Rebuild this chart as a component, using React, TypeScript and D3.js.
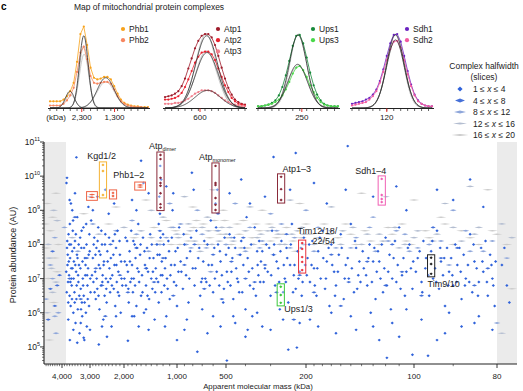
import React, { useEffect, useRef } from 'react'
import { select, scaleLinear, scaleLog, line, range } from 'd3'

const FONT = 'Liberation Sans, Arial, Helvetica, sans-serif'

// ---------- top panels: slice profiles (relative intensity) ----------
const phb1 = [8, 8, 8, 8, 10, 14, 20, 30, 55, 88, 97, 75, 48, 36, 34, 35, 37, 37, 34, 26, 17, 10, 6, 4, 3, 2, 2, 1, 1, 1]
const phb2 = [3, 3, 3, 3, 5, 9, 15, 24, 43, 66, 73, 58, 38, 30, 29, 30, 31, 31, 29, 22, 14, 8, 5, 3, 2, 1, 1, 1, 0, 0]
const atp1 = [13, 14, 15, 17, 20, 26, 35, 47, 59, 71, 80, 86, 88, 88, 84, 75, 62, 48, 35, 24, 16, 10, 7, 5, 4]
const atp2 = [10, 10, 11, 12, 14, 18, 25, 34, 44, 54, 61, 66, 67, 67, 64, 57, 47, 37, 27, 19, 12, 8, 5, 4, 3]
const atp3 = [5, 5, 5, 6, 6, 7, 9, 11, 14, 17, 19, 21, 21, 21, 20, 18, 15, 12, 9, 7, 5, 4, 3, 2, 2]
const ups1 = [2, 2, 3, 4, 6, 9, 15, 25, 39, 56, 74, 86, 87, 77, 60, 42, 27, 16, 9, 5, 3, 2, 2, 2]
const ups3 = [2, 2, 3, 4, 5, 7, 10, 15, 22, 31, 41, 48, 50, 45, 37, 27, 19, 12, 7, 4, 3, 2, 2, 2]
const sdh1 = [5, 6, 7, 8, 10, 12, 16, 22, 32, 46, 62, 77, 87, 88, 79, 62, 44, 28, 16, 9, 5, 3, 2, 2]
const sdh2 = [3, 4, 5, 6, 7, 10, 14, 20, 30, 43, 57, 70, 79, 80, 72, 57, 40, 26, 15, 8, 5, 3, 2, 2]

// gaussian fits: [amplitude, centre slice, sigma]
const phbFits = [[86, 10, 1.3], [36, 16.5, 2.5], [20, 5.9, 1.3]]
const phbFitsGray = [[74, 10, 1.35], [64, 10.1, 1.4], [31, 16.5, 2.6], [16, 6, 1.4]]
const atpFits = [[86, 12.5, 3.3], [66, 12.6, 3.4], [21, 12.8, 3.8]]
const atpFitsGray = [[88, 12.3, 3.1], [68, 12.4, 3.2]]
const upsFits = [[87, 11.5, 2.5], [52, 11.4, 2.8]]
const upsFitsGray = [[88, 11.6, 2.4], [50, 11.5, 2.9]]
const sdhFits = [[87, 12.5, 2.5], [81, 12.5, 2.55]]
const sdhFitsGray = [[88, 12.4, 2.4]]

const phbTicks = [['2,300', 9.4], ['1,300', 19.1]]
const atpTicks = [['600', 10.5]]
const upsTicks = [['250', 12.6]]
const sdhTicks = [['120', 10]]

// ---------- main map ----------
const massTicks = [4000, 3000, 2000, 1000, 500, 200, 100, 80]
const massTickLabels = ['4,000', '3,000', '2,000', '1,000', '500', '200', '100', '80']
const massMinor = [4700, 4600, 4500, 4400, 4300, 4200, 4100, 3900, 3800, 3700, 3600, 3500, 3400, 3300, 3200, 3100,
  2900, 2800, 2700, 2600, 2500, 2400, 2300, 2200, 2100, 1900, 1800, 1700, 1600, 1500, 1400, 1300, 1200, 1100,
  900, 800, 700, 600, 400, 300, 190, 180, 170, 160, 150, 140, 130, 120, 110, 90]
const abundanceExponents = [5, 6, 7, 8, 9, 10, 11]
const halfwidthBins = [[1, 4], [4, 8], [8, 12], [12, 16], [16, 20]]

// [apparent mass kDa, log10 abundance]
const hw1 = [
  [3800, 7.9], [3780, 7.4], [3760, 6.9], [3740, 8.3], [3720, 7.1], [3700, 6.5], [3690, 8.6], [3680, 7.6], [3660, 6.2], [3650, 8.0],
  [3640, 7.3], [3620, 6.8], [3600, 7.8], [3580, 8.4], [3560, 6.0], [3550, 7.0], [3540, 7.5], [3520, 6.6], [3500, 8.1], [3480, 5.7],
  [3460, 7.2], [3450, 6.4], [3430, 7.7], [3420, 8.8], [3400, 6.1], [3380, 6.9], [3360, 7.4], [3340, 5.4], [3320, 8.2], [3300, 6.7],
  [3280, 7.9], [3260, 6.3], [3250, 5.9], [3230, 7.0], [3210, 8.5], [3200, 6.5], [3180, 5.2], [3160, 7.6], [3150, 7.1], [3130, 6.0],
  [3110, 8.0], [3100, 5.6], [3080, 6.8], [3060, 7.3], [3050, 9.1], [3030, 6.2], [3010, 7.8], [3000, 5.5], [2980, 6.6], [2960, 8.7],
  [3450, 10.55], [3800, 9.95], [3820, 9.8], [3700, 9.3], [3600, 9.0], [3420, 5.12], [3200, 5.27], [3690, 5.2],
  [2900, 7.6], [2880, 6.9], [2850, 8.2], [2820, 7.2], [2800, 6.4], [2780, 7.9], [2750, 6.7], [2720, 8.5], [2700, 7.4], [2680, 6.1],
  [2650, 7.7], [2630, 6.8], [2600, 8.0], [2580, 7.1], [2560, 5.8], [2540, 7.5], [2520, 6.5], [2500, 8.3], [2480, 7.0], [2460, 6.3],
  [2440, 7.8], [2420, 6.9], [2400, 8.9], [2380, 7.3], [2360, 6.6], [2340, 7.6], [2320, 5.6], [2300, 7.1], [2280, 8.1], [2260, 6.7],
  [2240, 7.4], [2220, 6.2], [2200, 7.9], [2180, 6.9], [2160, 8.4], [2140, 7.2], [2120, 6.5], [2100, 7.7], [2080, 6.0], [2060, 7.0],
  [2750, 9.4], [2500, 9.6], [2250, 9.2], [2900, 9.0], [2700, 5.07], [2450, 5.3],
  [1980, 7.5], [1950, 6.8], [1920, 8.1], [1900, 7.2], [1880, 6.3], [1860, 7.8], [1840, 6.9], [1820, 8.4], [1800, 7.4], [1780, 6.6],
  [1760, 7.0], [1740, 8.0], [1720, 7.6], [1700, 6.2], [1680, 7.3], [1660, 8.6], [1640, 6.9], [1620, 7.7], [1600, 6.5], [1580, 7.1],
  [1560, 8.2], [1540, 6.0], [1520, 7.4], [1500, 6.8], [1480, 7.9], [1460, 7.2], [1440, 6.4], [1420, 8.3], [1400, 7.0], [1380, 6.7],
  [1360, 7.6], [1340, 5.8], [1600, 10.45], [1800, 9.3], [1450, 9.5], [1700, 9.0], [1550, 9.8],
  [1900, 5.18], [1650, 5.6], [1450, 5.5], [1750, 5.9],
  [1320, 7.3], [1300, 8.0], [1280, 6.9], [1270, 8.6], [1260, 9.4], [1255, 7.7], [1250, 8.9], [1245, 10.3], [1240, 8.2], [1235, 7.1],
  [1230, 9.9], [1225, 6.6], [1220, 7.5], [1200, 8.3], [1180, 6.8], [1160, 7.6], [1140, 7.0], [1120, 8.1], [1100, 6.4], [1080, 7.4],
  [1060, 9.0], [1040, 6.9], [1020, 7.8], [1000, 6.2], [980, 7.2], [970, 8.5], [1000, 5.2], [1150, 5.9], [1150, 9.7], [1050, 9.5],
  [950, 7.5], [920, 6.7], [900, 8.0], [880, 7.1], [810, 10.1], [790, 9.6], [850, 6.3], [830, 7.8], [800, 7.3], [780, 6.8],
  [760, 8.4], [740, 7.6], [720, 6.5], [700, 7.0], [680, 8.1], [660, 6.9], [640, 7.4], [620, 8.7], [600, 6.6], [590, 7.9],
  [580, 9.2], [575, 8.5], [570, 7.2], [565, 9.6], [560, 8.0], [550, 6.8], [540, 7.5], [520, 6.3], [510, 8.2],
  [750, 4.86], [900, 5.5], [650, 5.4],
  [500, 7.7], [490, 6.9], [480, 8.3], [470, 7.2], [460, 6.4], [450, 7.9], [440, 7.0], [430, 6.6], [420, 8.1], [410, 7.4],
  [400, 6.1], [395, 8.8], [390, 7.6], [380, 6.8], [370, 7.3], [360, 8.5], [355, 6.5], [350, 7.8], [345, 7.1],
  [495, 4.6], [450, 5.7], [400, 5.3], [370, 5.9], [480, 9.5], [420, 9.9], [380, 9.2],
  [335, 7.5], [325, 6.9], [315, 8.0], [310, 7.2], [300, 6.5], [295, 8.4], [290, 7.7], [285, 6.8], [275, 7.3], [290, 10.56],
  [225, 10.68], [153, 10.88], [265, 8.1], [260, 6.6], [255, 7.0], [250, 7.9], [245, 6.3], [240, 7.4], [235, 8.6], [230, 7.1],
  [225, 6.7], [220, 7.8], [215, 7.2], [210, 6.5], [205, 8.2], [245, 4.92], [222, 4.98], [300, 5.5], [260, 5.8], [320, 9.4], [240, 9.6],
  [198, 7.6], [195, 6.9], [192, 8.1], [190, 7.3], [187, 6.5], [185, 7.8], [182, 7.0], [180, 8.4], [177, 6.7], [175, 7.5],
  [172, 6.2], [170, 8.0], [167, 7.2], [165, 6.8], [162, 7.7], [160, 8.3], [157, 6.4], [155, 7.4], [152, 7.0], [150, 8.6],
  [147, 6.6], [145, 7.9], [143, 7.1], [141, 6.9], [185, 5.6], [165, 5.4], [150, 5.9], [175, 9.2], [155, 9.6], [190, 9.8],
  [138, 7.3], [135, 6.8], [133, 8.0], [130, 7.5], [128, 6.4], [126, 7.8], [124, 7.0], [122, 6.6], [120, 8.2], [118, 7.2],
  [116, 6.1], [114, 7.6], [112, 6.9], [110, 8.5], [108, 7.1], [106, 6.5], [104, 7.9], [102, 7.3], [101, 6.7],
  [119, 4.68], [101, 4.77], [130, 5.6], [110, 5.3], [130, 9.4], [112, 9.7], [105, 9.0],
  [99, 7.6], [98, 6.9], [97.5, 8.1], [97, 7.3], [96, 6.5], [95.5, 7.8], [95, 7.0], [94, 8.4], [93.5, 6.7], [93, 7.5],
  [92, 6.2], [91.5, 7.9], [91, 7.2], [90, 6.8], [89.5, 8.0], [89, 7.4], [88, 6.4], [87.5, 7.7], [87, 7.0], [86, 8.3],
  [85.5, 6.6], [85, 7.5], [84, 6.9], [83.5, 7.9], [83, 7.2], [82, 6.5], [81.5, 7.7], [81, 7.0], [80.5, 6.2],
  [96.3, 4.74], [92, 5.4], [85, 5.7], [94, 9.6], [86, 9.9], [90, 9.3], [83, 9.1],
  [79, 7.4], [78, 6.8], [77.5, 6.3], [78.5, 7.9],
]
const hw1More = [
  [3830, 7.2], [3810, 6.6], [3790, 8.1], [3770, 7.7], [3750, 6.3], [3730, 7.5], [3710, 8.0], [3670, 6.9], [3630, 7.0], [3610, 6.4],
  [3590, 7.3], [3570, 8.7], [3530, 7.9], [3510, 6.3], [3490, 7.4], [3470, 8.3], [3440, 6.8], [3410, 7.6], [3390, 7.1], [3370, 8.0],
  [3350, 6.5], [3310, 7.3], [3290, 6.1], [3270, 8.4], [3240, 7.5], [3220, 6.8], [3190, 7.9], [3170, 6.3], [3140, 7.4], [3120, 8.6],
  [3090, 7.1], [3070, 6.4], [3040, 7.7], [3020, 8.3], [2990, 7.0], [3750, 5.8], [3560, 5.5], [3300, 5.7], [3650, 9.2], [3500, 9.5],
  [2930, 7.1], [2870, 8.0], [2840, 6.6], [2810, 7.7], [2770, 7.0], [2740, 8.1], [2710, 6.5], [2690, 7.8], [2660, 7.3], [2620, 8.4],
  [2590, 6.9], [2550, 7.4], [2510, 8.0], [2470, 6.7], [2430, 7.5], [2390, 8.2], [2350, 7.0], [2310, 6.8], [2270, 7.7], [2230, 8.3],
  [2190, 7.4], [2150, 6.6], [2110, 8.1], [2070, 7.5], [2040, 6.8], [2600, 5.6], [2200, 5.9],
  [1990, 7.0], [1960, 8.2], [1930, 7.4], [1890, 6.7], [1850, 7.5], [1810, 7.0], [1770, 8.1], [1730, 6.8], [1690, 7.9], [1650, 7.2],
  [1610, 8.0], [1570, 6.6], [1530, 7.8], [1490, 7.3], [1470, 6.5], [1430, 7.6], [1390, 8.0], [1370, 7.2], [1330, 6.6], [1800, 5.9], [1500, 6.1],
  [1310, 7.0], [1290, 7.7], [1210, 7.1], [1190, 8.0], [1170, 7.3], [1130, 6.7], [1110, 7.8], [1090, 7.1], [1070, 8.2], [1030, 7.4],
  [1010, 6.8], [990, 7.9], [1270, 6.3], [1170, 5.6],
  [940, 7.2], [910, 8.3], [870, 7.6], [840, 7.0], [820, 8.2], [770, 7.3], [730, 7.9], [710, 6.9], [690, 7.5], [670, 7.0],
  [650, 8.0], [630, 6.8], [610, 7.4], [585, 7.0], [545, 7.8], [530, 7.1], [515, 6.7], [870, 5.8], [700, 6.1], [600, 5.9], [540, 5.6],
  [495, 7.2], [485, 7.9], [475, 6.8], [465, 7.6], [455, 8.2], [445, 7.3], [435, 6.9], [425, 7.7], [415, 6.6], [405, 7.9],
  [385, 7.2], [375, 8.0], [365, 6.7], [348, 7.4], [342, 8.1], [460, 5.9], [390, 5.5], [350, 6.0],
  [338, 6.9], [330, 7.8], [320, 7.3], [305, 7.9], [298, 7.1], [288, 8.0], [280, 7.5], [272, 6.9], [268, 7.8], [258, 7.4],
  [252, 6.9], [248, 7.6], [238, 8.0], [232, 6.6], [228, 7.4], [218, 7.0], [212, 7.9], [208, 6.9], [202, 7.4], [330, 5.6], [270, 6.1], [215, 5.7],
  [199, 7.1], [196, 8.0], [193, 7.4], [189, 6.8], [186, 7.3], [183, 8.2], [179, 7.6], [176, 7.0], [173, 7.9], [169, 7.4],
  [166, 6.5], [163, 7.2], [159, 7.9], [156, 7.0], [153, 7.6], [149, 7.3], [146, 8.1], [144, 6.7], [142, 7.5], [195, 5.8], [170, 6.0], [145, 5.5],
  [139, 7.8], [136, 7.1], [134, 7.6], [131, 6.9], [129, 7.9], [127, 7.2], [125, 7.5], [123, 8.0], [121, 7.3], [119, 6.8],
  [117, 7.7], [115, 7.0], [113, 8.1], [111, 7.4], [109, 6.7], [107, 7.6], [105, 7.2], [103, 8.0], [100.5, 7.5], [132, 6.0],
  [115, 5.7], [105, 6.1], [125, 5.2],
  [99.5, 7.2], [98.5, 7.8], [97.8, 6.6], [96.8, 7.6], [96.2, 7.1], [95.2, 8.1], [94.5, 7.3], [94.2, 6.9], [93.2, 7.9], [92.5, 7.1],
  [92.2, 7.6], [91.2, 6.8], [90.5, 7.6], [90.2, 7.1], [89.2, 6.9], [88.5, 7.9], [88.2, 7.2], [87.2, 6.8], [86.5, 7.4], [86.2, 6.9],
  [85.2, 8.0], [84.5, 7.3], [84.2, 6.5], [83.2, 7.5], [82.5, 8.1], [82.2, 6.9], [81.2, 7.4], [80.8, 6.8], [80.3, 7.5], [98, 5.8],
  [94, 5.2], [91, 6.0], [88, 5.6], [84, 5.9], [81, 5.5],
]
const hw2 = [
  [3700, 7.0], [3300, 6.4], [3100, 7.6], [2800, 7.3], [2600, 6.8], [2350, 8.0], [2100, 7.1], [1900, 6.6], [1700, 7.9], [1500, 7.3],
  [1350, 6.9], [1200, 7.6], [1050, 6.5], [900, 7.4], [780, 8.0], [680, 6.7], [600, 7.7], [530, 6.4], [470, 7.5], [410, 8.2],
  [360, 6.9], [320, 7.4], [280, 6.6], [250, 8.3], [215, 7.1], [190, 6.6], [170, 7.7], [152, 6.9], [135, 7.5], [120, 6.8],
  [108, 7.2], [98, 6.5], [93, 7.6], [89, 7.9], [85, 6.8], [82, 7.3], [4300, 6.2], [4100, 7.1], [4500, 6.7], [3500, 8.8],
  [2500, 5.9], [1250, 8.4], [560, 8.9], [400, 7.0], [230, 5.8], [160, 6.2], [115, 8.0], [95, 8.5], [4400, 7.8], [4200, 6.8], [4600, 5.8],
]
const hw3 = [
  [4500, 7.4], [4300, 8.2], [4150, 6.0], [3900, 8.5], [3400, 7.8], [2900, 8.6], [2200, 8.4], [1800, 8.7], [1450, 7.8], [1150, 8.2],
  [950, 8.6], [820, 7.9], [700, 8.3], [620, 7.2], [500, 8.0], [430, 7.7], [380, 8.5], [330, 8.1], [290, 7.7], [265, 8.6],
  [240, 7.9], [205, 8.0], [185, 8.5], [165, 7.9], [145, 8.2], [128, 7.8], [112, 8.4], [103, 7.8], [96, 8.0], [91, 7.4],
  [87, 8.4], [83, 7.8], [78, 7.6], [4700, 6.4], [4250, 5.4], [3000, 9.4], [1100, 9.2], [750, 9.0], [450, 9.2], [300, 8.9],
  [200, 9.0], [130, 8.8], [90, 9.0], [80, 5.7],
  [1700, 8.3], [1250, 8.0], [1050, 8.5], [880, 8.0], [660, 7.9], [560, 8.4], [470, 8.2], [400, 7.8], [340, 7.9], [280, 8.4],
  [228, 8.2], [190, 7.8], [170, 8.4], [150, 7.9], [133, 8.5], [118, 8.1], [106, 8.3], [99, 7.9], [93, 8.1], [86, 7.8],
  [81, 8.1], [4400, 7.0], [4300, 5.9],
]
const hw4 = [
  [4600, 8.0], [4400, 6.6], [4200, 8.7], [3600, 8.2], [2700, 8.3], [2000, 8.5], [1600, 8.4], [1300, 8.0], [1000, 8.3], [850, 8.6],
  [720, 7.8], [640, 8.4], [550, 8.1], [480, 8.5], [420, 7.9], [350, 8.2], [310, 8.4], [270, 8.0], [235, 8.3], [210, 8.5],
  [180, 8.1], [158, 8.4], [140, 8.0], [125, 8.3], [110, 7.9], [100, 8.2], [94, 8.3], [88, 8.1], [84, 8.5], [77, 8.2],
  [4450, 7.3], [4350, 9.0], [1400, 9.0], [900, 9.4], [600, 9.6], [380, 9.1], [240, 9.3], [170, 9.1], [120, 9.4], [92, 9.2],
  [86, 9.7], [79, 5.4],
  [1400, 8.2], [1200, 8.8], [1080, 8.5], [980, 8.2], [830, 8.4], [780, 8.1], [700, 8.5], [650, 8.8], [610, 8.0], [530, 8.5],
  [500, 8.3], [460, 8.1], [400, 8.4], [365, 8.0], [335, 8.3], [295, 8.5], [275, 8.3], [255, 8.0], [220, 8.4], [205, 8.3],
  [190, 8.0], [172, 8.3], [160, 8.0], [148, 8.5], [135, 8.3], [122, 8.1], [113, 8.5], [106, 8.0], [99, 8.4], [95, 8.1],
  [90, 8.5], [85, 8.3], [79, 8.6], [4550, 7.6], [4250, 6.9], [4650, 6.0],
]
const hw5 = [
  [4500, 8.4], [4300, 7.6], [4550, 5.2], [3200, 8.9], [2400, 8.6], [1750, 8.2], [1350, 8.5], [1080, 8.0], [880, 8.3], [760, 8.7],
  [660, 8.0], [570, 8.4], [490, 8.2], [440, 8.6], [390, 7.9], [340, 8.4], [300, 8.1], [260, 8.3], [225, 7.8], [195, 8.3],
  [175, 8.0], [150, 8.3], [132, 8.1], [118, 8.5], [105, 8.1], [97, 8.4], [90, 8.0], [86, 8.2], [81, 8.4], [78, 8.0],
  [4650, 9.2], [4250, 9.5], [2200, 9.1], [1500, 9.3], [800, 9.1], [520, 9.0], [330, 9.0], [215, 9.2], [140, 9.5], [100, 9.3],
  [93, 8.8], [82, 9.6], [77, 6.7],
  [1250, 8.1], [1150, 8.7], [1020, 8.4], [960, 8.0], [850, 8.1], [790, 8.5], [740, 8.0], [690, 8.6], [630, 8.2], [590, 8.7],
  [540, 8.3], [510, 8.7], [470, 8.0], [430, 8.3], [410, 8.7], [370, 8.2], [355, 8.6], [320, 8.0], [305, 8.6], [280, 8.2],
  [250, 8.5], [232, 8.1], [210, 8.2], [200, 8.6], [185, 8.2], [178, 8.6], [163, 8.2], [155, 8.6], [145, 8.0], [137, 8.4],
  [125, 8.0], [115, 8.3], [108, 8.6], [102, 8.0], [96, 8.2], [92, 8.6], [88, 8.4], [84, 8.0], [80, 8.3], [4600, 7.0],
  [4400, 8.8], [4700, 7.9], [4200, 7.2], [4350, 6.3], [4150, 8.0], [4750, 8.6],
]

// highlighted complexes
const kgdMembers = [[2570, 10.33], [2570, 10.15], [2570, 9.45]]
const phbMembersA = [[2930, 9.46], [2930, 9.38]]
const phbMembersB = [[2280, 9.51], [2280, 9.42]]
const phbMembersC = [[1620, 9.74], [1620, 9.68]]
const atpDimerMembers = [[1241, 10.62], [1241, 10.5], [1241, 9.95], [1241, 9.8], [1241, 9.72], [1241, 9.5], [1241, 9.18], [1241, 9.08]]
const atpMonomerMembers = [[580, 10.3], [580, 9.8], [580, 9.74], [580, 9.36], [580, 9.16], [580, 9.01]]
const atp13Members = [[266, 9.98], [266, 9.62], [266, 9.3]]
const sdhMembers = [[123, 9.92], [123, 9.45], [123, 9.33], [123, 9.24]]
const tim12Members = [[209, 8.04], [209, 7.87], [209, 7.63], [209, 7.49], [209, 7.25]]
const upsMembers = [[267, 6.76], [267, 6.52], [267, 6.29]]
const tim910Members = [[95.5, 7.61], [95.5, 7.43], [95.5, 7.14]]

const classStyle = [
  { rx: 1.6, ry: 1.45, color: '#2f62da' },
  { rx: 2.6, ry: 1.15, color: '#4570d8' },
  { rx: 3.4, ry: 0.95, color: '#8ea6da' },
  { rx: 4.4, ry: 0.85, color: '#b3bdd0' },
  { rx: 5.4, ry: 0.75, color: '#cbcbcb' },
]
const legendStyle = [[2.6, 2.6], [5, 2], [6, 1.5], [7, 1.1], [8.5, 0.9]]

const diamond = (cx: number, cy: number, rx: number, ry: number) =>
  `M${cx - rx},${cy}L${cx},${cy - ry}L${cx + rx},${cy}L${cx},${cy + ry}Z`

function App() {
  const ref = useRef<SVGSVGElement>(null)

  useEffect(() => {
    const svg = select(ref.current)
    svg.selectAll('*').remove()

    svg.append('text').attr('x', 1).attr('y', 9.5).attr('font-size', 10).attr('font-weight', 'bold').text('c')
    svg.append('text').attr('x', 149).attr('y', 10).attr('text-anchor', 'middle').attr('font-size', 8.5)
      .attr('fill', '#222').text('Map of mitochondrial protein complexes')

    // ---------- top panels ----------
    const panels = [
      { series: [['Phb1', '#f7a21b', phb1], ['Phb2', '#f78660', phb2]], fits: phbFits, gray: phbFitsGray, ticks: phbTicks, x0: 50, x1: 148, lx: 123 },
      { series: [['Atp1', '#9e1b2a', atp1], ['Atp2', '#e8202e', atp2], ['Atp3', '#f07f8c', atp3]], fits: atpFits, gray: atpFitsGray, ticks: atpTicks, x0: 165, x1: 245, lx: 218 },
      { series: [['Ups1', '#17893a', ups1], ['Ups3', '#4ad84a', ups3]], fits: upsFits, gray: upsFitsGray, ticks: upsTicks, x0: 258, x1: 338, lx: 313 },
      { series: [['Sdh1', '#6a22c0', sdh1], ['Sdh2', '#f25aa0', sdh2]], fits: sdhFits, gray: sdhFitsGray, ticks: sdhTicks, x0: 352, x1: 432, lx: 407 },
    ]
    const py = scaleLinear().domain([0, 100]).range([108, 24])

    panels.forEach((p, pi) => {
      const n = (p.series[0][2] as number[]).length
      const px = scaleLinear().domain([0, n - 1]).range([p.x0, p.x1])
      const g = svg.append('g')
      const t = range(0, n - 1 + 0.001, 0.1)
      const fitPath = (f: number[]) => line<number>()
        .x(d => px(d))
        .y(d => py(f[0] * Math.exp(-((d - f[1]) ** 2) / (2 * f[2] * f[2]))))(t)

      p.gray.forEach(f => g.append('path').attr('d', fitPath(f)).attr('fill', 'none').attr('stroke', '#b0b0b0').attr('stroke-width', 0.7))

      p.series.forEach(([, color, vals]) => {
        const v = vals as number[]
        g.append('path').attr('d', line<number>().x((d, i) => px(i)).y(d => py(d))(v))
          .attr('fill', 'none').attr('stroke', color as string).attr('stroke-width', 0.8)
        g.selectAll(null).data(v).enter().append('circle')
          .attr('cx', (d, i) => px(i)).attr('cy', d => py(d)).attr('r', 1.1).attr('fill', color as string)
      })

      p.fits.forEach(f => g.append('path').attr('d', fitPath(f)).attr('fill', 'none').attr('stroke', '#2a2a2a').attr('stroke-width', 0.8))

      // axis
      g.append('line').attr('x1', p.x0 - 2).attr('x2', p.x1 + 2).attr('y1', 108.5).attr('y2', 108.5)
        .attr('stroke', '#222').attr('stroke-width', 1.2)
      g.selectAll(null).data(range(0, n, 2)).enter().append('line')
        .attr('x1', d => px(d)).attr('x2', d => px(d)).attr('y1', 108.5).attr('y2', 111)
        .attr('stroke', '#222').attr('stroke-width', 0.7)
      p.ticks.forEach(([label, s]) => {
        g.append('line').attr('x1', px(s as number)).attr('x2', px(s as number)).attr('y1', 108.5).attr('y2', 112)
          .attr('stroke', '#e8302a').attr('stroke-width', 1)
        g.append('text').attr('x', px(s as number)).attr('y', 120).attr('text-anchor', 'middle')
          .attr('font-size', 8).attr('fill', '#222').text(label as string)
      })
      if (pi === 0) {
        g.append('text').attr('x', px(1.8)).attr('y', 120).attr('text-anchor', 'middle')
          .attr('font-size', 8).attr('fill', '#222').text('(kDa)')
      }

      // legend
      p.series.forEach(([name, color], i) => {
        const ly = 29 + i * 11.2
        g.append('circle').attr('cx', p.lx).attr('cy', ly).attr('r', 2.1).attr('fill', color as string)
        g.append('text').attr('x', p.lx + 6).attr('y', ly + 3).attr('font-size', 8.5).attr('fill', '#222').text(name as string)
      })
    })

    // ---------- halfwidth legend ----------
    const lg = svg.append('g')
    lg.append('text').attr('x', 484).attr('y', 69).attr('text-anchor', 'middle').attr('font-size', 8.5).attr('fill', '#222').text('Complex halfwidth')
    lg.append('text').attr('x', 484).attr('y', 80).attr('text-anchor', 'middle').attr('font-size', 8.5).attr('fill', '#222').text('(slices)')
    halfwidthBins.forEach(([lo, hi], i) => {
      const cy = 89 + i * 11.5
      lg.append('path').attr('d', diamond(460, cy, legendStyle[i][0], legendStyle[i][1])).attr('fill', classStyle[i].color)
      const tx = lg.append('text').attr('x', 473).attr('y', cy + 3).attr('font-size', 8.5).attr('fill', '#222')
      tx.append('tspan').text(`${lo} ≤ `)
      tx.append('tspan').attr('font-style', 'italic').text('x')
      tx.append('tspan').text(` ≤ ${hi}`)
    })

    // ---------- main map ----------
    const x = scaleLog()
      .domain([4800, 4000, 3000, 2000, 1000, 500, 200, 100, 80, 76])
      .range([44, 62, 90, 124, 177, 226, 306, 414, 497, 517])
    const yMin = 10 ** 4.5
    const y = scaleLog().domain([yMin, 1e11]).range([364, 142])

    const bg = svg.append('g')
    bg.append('rect').attr('x', x(4800)).attr('y', y(1e11)).attr('width', x(3840) - x(4800))
      .attr('height', y(yMin) - y(1e11)).attr('fill', '#ebebeb')
    bg.append('rect').attr('x', x(80)).attr('y', y(1e11)).attr('width', x(76) - x(80))
      .attr('height', y(yMin) - y(1e11)).attr('fill', '#ebebeb')

    const pts = svg.append('g')
    const classes = [hw5, hw4, hw3, hw2, hw1.concat(hw1More)]
    classes.forEach((arr, k) => {
      const st = classStyle[4 - k]
      pts.selectAll(null).data(arr).enter().append('path')
        .attr('d', d => diamond(x(d[0]), y(10 ** d[1]), st.rx, st.ry))
        .attr('fill', st.color)
    })

    // complexes
    const complexes = [
      { m: kgdMembers, color: '#f5b335', cls: 0, labels: [{ t: 'Kgd1/2', dx: -12, dy: -3, from: 'top' }] },
      { m: phbMembersA, color: '#ee6446', cls: 2, labels: [] },
      { m: phbMembersB, color: '#ee6446', cls: 0, labels: [] },
      { m: phbMembersC, color: '#ee6446', cls: 2, labels: [{ t: 'Phb1–2', dx: -21.5, dy: -4, from: 'top' }] },
      { m: atpDimerMembers, color: '#8a2a3a', cls: 0, labels: [{ t: 'Atp', sub: 'dimer', dx: -8, dy: -3, from: 'top' }] },
      { m: atpMonomerMembers, color: '#8a2a3a', cls: 0, labels: [{ t: 'Atp', sub: 'monomer', dx: -13, dy: -3, from: 'top' }] },
      { m: atp13Members, color: '#8a2a3a', cls: 0, labels: [{ t: 'Atp1–3', dx: 5, dy: -1.5, from: 'top' }] },
      { m: sdhMembers, color: '#f060b4', cls: 0, labels: [{ t: 'Sdh1–4', dx: -23, dy: -2, from: 'top' }] },
      { m: tim12Members, color: '#e8303a', cls: 0, labels: [{ t: 'Tim12/18/', dx: -1, dy: -6, from: 'top' }, { t: '22/54', dx: 14, dy: 3.5, from: 'top' }] },
      { m: upsMembers, color: '#3cc83c', cls: 0, labels: [{ t: 'Ups1/3', dx: 7, dy: 6, from: 'bottom' }] },
      { m: tim910Members, color: '#222222', cls: 0, labels: [{ t: 'Tim9/10', dx: 0, dy: 10, from: 'bottom' }] },
    ]
    const ann = svg.append('g')
    complexes.forEach(c => {
      const st = classStyle[c.cls]
      const cx = x(c.m[0][0])
      const top = y(10 ** Math.max(...c.m.map(d => d[1]))) - 3
      const bottom = y(10 ** Math.min(...c.m.map(d => d[1]))) + 3
      const hw = st.rx + 2
      ann.append('rect').attr('x', cx - hw).attr('y', top).attr('width', hw * 2).attr('height', bottom - top)
        .attr('fill', 'rgba(255,255,255,0.35)').attr('stroke', c.color).attr('stroke-width', 1)
      ann.selectAll(null).data(c.m).enter().append('path')
        .attr('d', d => diamond(x(d[0]), y(10 ** d[1]), st.rx, st.ry)).attr('fill', c.color)
      c.labels.forEach((l: any) => {
        const ty = (l.from === 'top' ? top : bottom) + l.dy
        const tx = ann.append('text').attr('x', cx - hw + l.dx).attr('y', ty).attr('font-size', 9).attr('fill', '#222')
        tx.append('tspan').text(l.t)
        if (l.sub) tx.append('tspan').attr('font-size', 5.5).attr('dy', 2).text(l.sub)
      })
    })

    // axes
    const ax = svg.append('g').attr('stroke', '#222')
    ax.append('line').attr('x1', 44).attr('x2', 44).attr('y1', y(1e11)).attr('y2', y(yMin)).attr('stroke-width', 1.1)
    ax.append('line').attr('x1', 44).attr('x2', x(76)).attr('y1', y(yMin)).attr('y2', y(yMin)).attr('stroke-width', 1.1)
    abundanceExponents.forEach(e => {
      ax.append('line').attr('x1', 40).attr('x2', 44).attr('y1', y(10 ** e)).attr('y2', y(10 ** e)).attr('stroke-width', 0.9)
    })
    range(4, 11).forEach(e => {
      range(2, 10).forEach(k => {
        const v = k * 10 ** e
        if (v < yMin || v > 1e11) return
        ax.append('line').attr('x1', 42).attr('x2', 44).attr('y1', y(v)).attr('y2', y(v)).attr('stroke-width', 0.6)
      })
    })
    massTicks.forEach(v => {
      ax.append('line').attr('x1', x(v)).attr('x2', x(v)).attr('y1', y(yMin)).attr('y2', y(yMin) + 4).attr('stroke-width', 0.9)
    })
    massMinor.forEach(v => {
      ax.append('line').attr('x1', x(v)).attr('x2', x(v)).attr('y1', y(yMin)).attr('y2', y(yMin) + 2.2).attr('stroke-width', 0.6)
    })

    const labels = svg.append('g').attr('fill', '#222')
    abundanceExponents.forEach(e => {
      const t = labels.append('text').attr('x', 40).attr('y', y(10 ** e) + 3).attr('text-anchor', 'end').attr('font-size', 8.5)
      t.append('tspan').text('10')
      t.append('tspan').attr('font-size', 5.5).attr('dy', -4).text(String(e))
    })
    massTicks.forEach((v, i) => {
      labels.append('text').attr('x', x(v)).attr('y', 378.5).attr('text-anchor', 'middle').attr('font-size', 8).text(massTickLabels[i])
    })
    labels.append('text').attr('transform', `translate(16,${(y(1e11) + y(yMin)) / 2 + 2}) rotate(-90)`)
      .attr('text-anchor', 'middle').attr('font-size', 9).text('Protein abundance (AU)')
    labels.append('text').attr('x', 258).attr('y', 389).attr('text-anchor', 'middle').attr('font-size', 7.8)
      .text('Apparent molecular mass (kDa)')
  }, [])

  return (
    <svg ref={ref} width={523} height={391}
      style={{ position: 'absolute', left: 0, top: 0, fontFamily: FONT, background: '#fff' }} />
  )
}

export default App
